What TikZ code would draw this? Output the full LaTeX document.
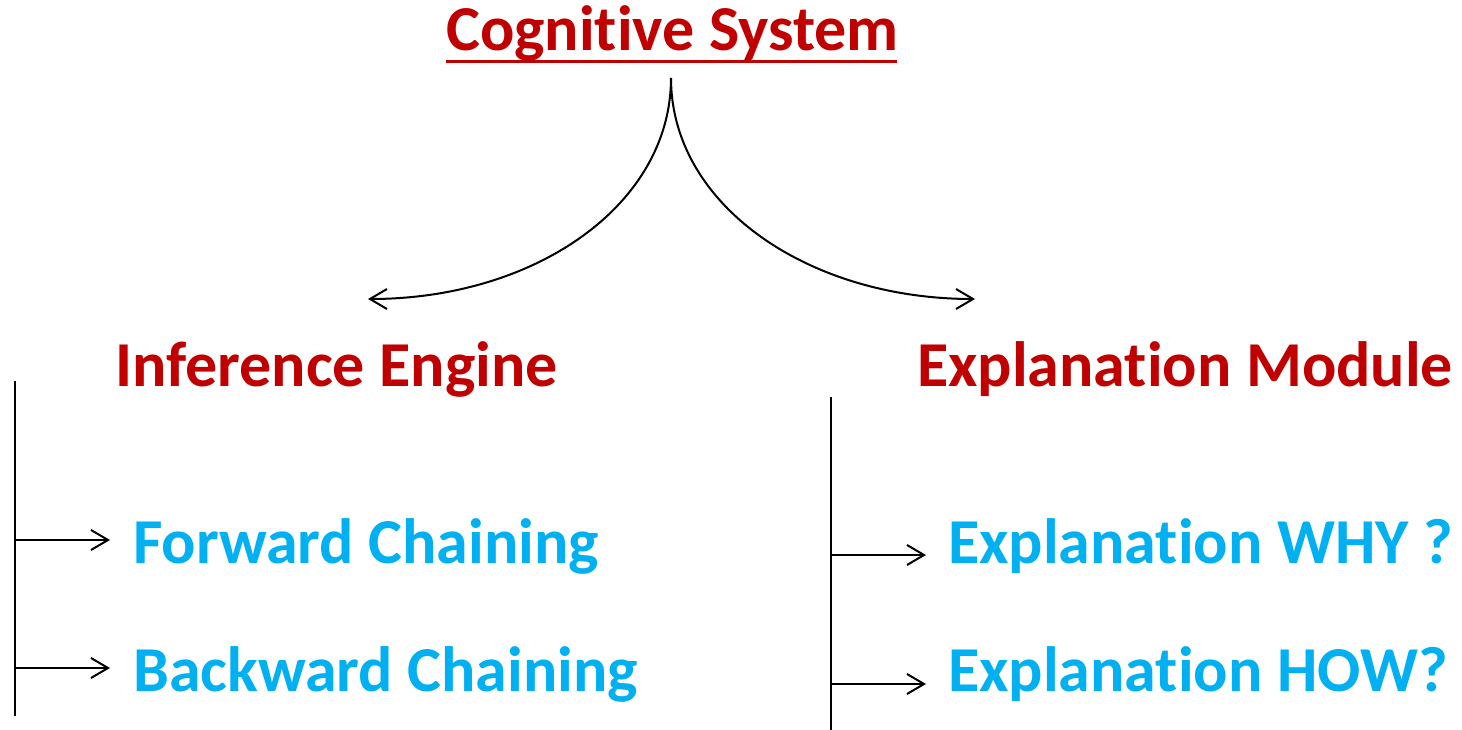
\documentclass[tikz,border=0pt]{standalone}
\usepackage{fontspec}
\setmainfont[Ligatures=NoCommon]{Carlito}
\usetikzlibrary{arrows.meta}
\definecolor{hdred}{HTML}{C00000}
\definecolor{itblue}{HTML}{00B0F0}
\begin{document}
\begin{tikzpicture}[x=1pt,y=-1pt,
  head/.style={font=\fontsize{64}{72}\selectfont\bfseries, text=hdred, inner sep=0pt, anchor=base west},
  item/.style={font=\fontsize{64}{72}\selectfont\bfseries, text=itblue, inner sep=0pt, anchor=base west},
  conn/.style={line width=2pt, -{Straight Barb[length=17pt,width=20pt,line width=2pt]}},
  bar/.style={line width=2pt},
  uline/.style={line width=3pt, draw=hdred}]
\useasboundingbox (0,0) rectangle (1462,730);
\node[head] (cs) at (446,51) {Cognitive System};
\coordinate (u1) at (446,62);
\coordinate (u2) at (897,62);
\draw[uline] (u1) -- (u2);
\coordinate (top) at (671,78);
\coordinate (lend) at (368,299);
\coordinate (rend) at (975,299);
\draw[conn] (top) .. controls (671,205) and (535,299) .. (lend);
\draw[conn] (top) .. controls (671,205) and (808,299) .. (rend);
\node[head] (ie) at (115,386) {Inference Engine};
\node[head] (em) at (917,386) {Explanation Module};
\coordinate (l1) at (15,381);
\coordinate (l2) at (15,716);
\draw[bar] (l1) -- (l2);
\coordinate (r1) at (831,397);
\coordinate (r2) at (831,730);
\draw[bar] (r1) -- (r2);
\node[item] (fc) at (133,563) {Forward Chaining};
\node[item] (bc) at (133,691) {Backward Chaining};
\node[item] (why) at (948,563) {Explanation WHY ?};
\node[item] (how) at (948,691) {Explanation HOW?};
\coordinate (fcs) at (15,540);
\coordinate (fce) at (110,540);
\coordinate (bcs) at (15,668);
\coordinate (bce) at (110,668);
\coordinate (whys) at (831,555);
\coordinate (whye) at (926,555);
\coordinate (hows) at (831,684);
\coordinate (howe) at (926,684);
\draw[conn] (fcs) -- (fce);
\draw[conn] (bcs) -- (bce);
\draw[conn] (whys) -- (whye);
\draw[conn] (hows) -- (howe);
\end{tikzpicture}
\end{document}
